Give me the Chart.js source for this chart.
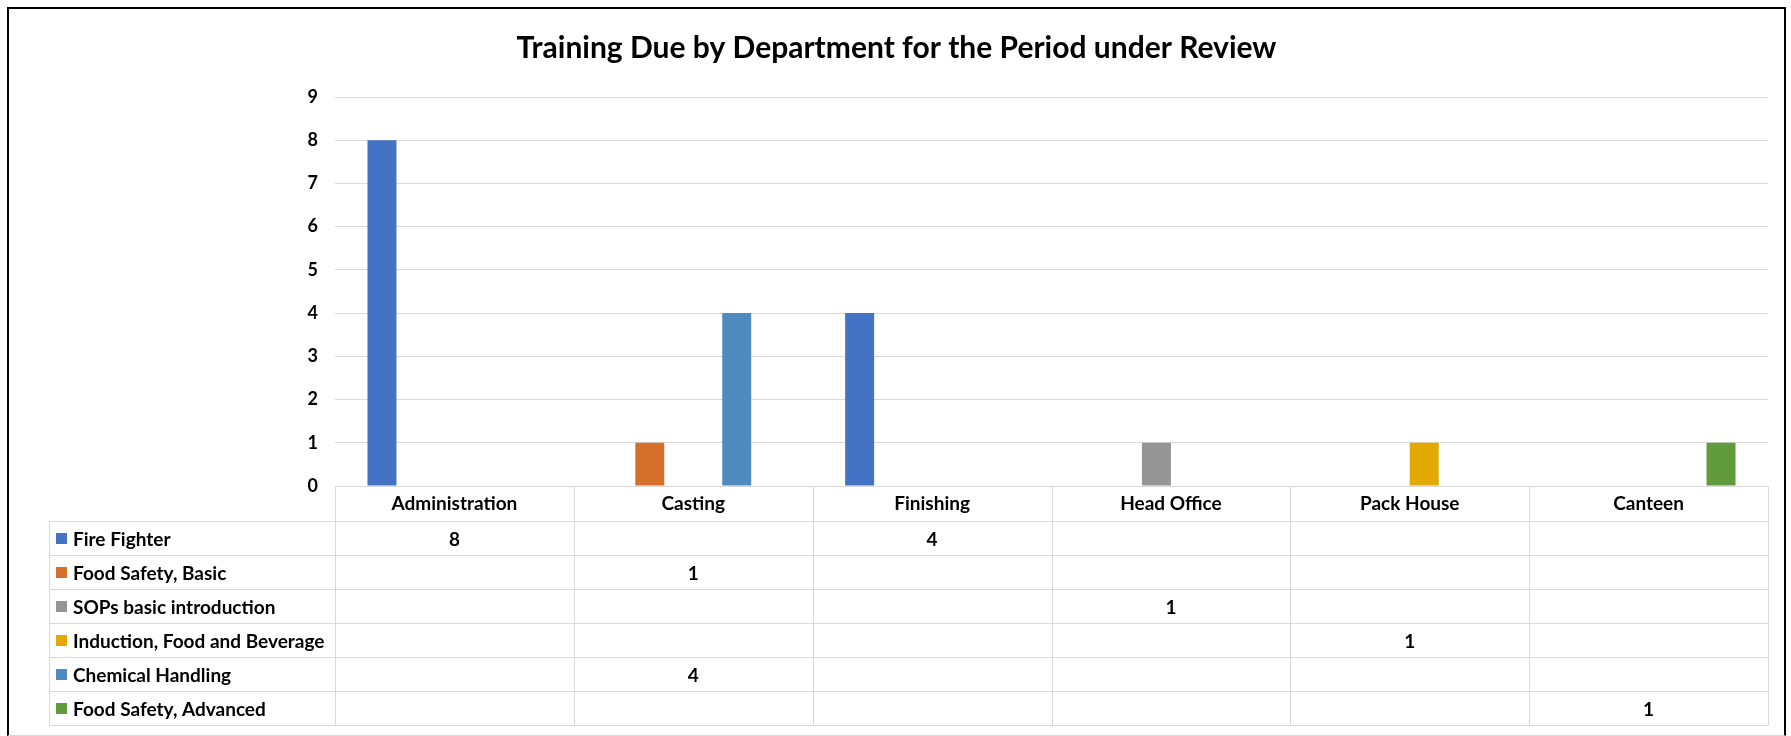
<!DOCTYPE html>
<html>
<head>
<meta charset="utf-8">
<script src="https://cdn.jsdelivr.net/npm/chart.js@4.4.1/dist/chart.umd.min.js"></script>
<style>
    body { margin: 0; background: #ffffff; }
    #frame {
        position: absolute;
        left: 7px;
        top: 7px;
        width: 1775px;
        height: 726px;
        border-left: 2px solid #000000;
        border-top: 2px solid #000000;
        border-right: 2px solid #000000;
        border-bottom: 1px solid #d9d9d9;
    }
    #chartHolder { display: block; }
</style>
</head>
<body>
<div id="frame"><canvas id="chartHolder" width="1775" height="726"></canvas></div>
<script>
const departments = ["Administration", "Casting", "Finishing", "Head Office", "Pack House", "Canteen"];
const trainingNames = ["Fire Fighter", "Food Safety, Basic", "SOPs basic introduction", "Induction, Food and Beverage", "Chemical Handling", "Food Safety, Advanced"];
const fireFighter = [8, null, 4, null, null, null];
const foodSafetyBasic = [null, 1, null, null, null, null];
const sopsIntro = [null, null, null, 1, null, null];
const inductionFoodBev = [null, null, null, null, 1, null];
const chemicalHandling = [null, 4, null, null, null, null];
const foodSafetyAdvanced = [null, null, null, null, null, 1];
const yTicks = [0, 1, 2, 3, 4, 5, 6, 7, 8, 9];
const colours = ["#4472c4", "#d4702b", "#959595", "#e2aa00", "#4f8bbe", "#629a3e"];

const chartHolder = document.getElementById("chartHolder");
const fontFamily = "Lato, 'Open Sans', sans-serif";
const gridColour = "#d9d9d9";
const rowHeight = 34;
const tableLeft = 40;

// data table under the plot, columns follow the x scale
const dataTable = {
    id: "dataTable",
    afterDraw(chart) {
        const ctx = chart.ctx;
        const x = chart.scales.x;
        const area = chart.chartArea;
        const colWidth = (area.right - area.left) / departments.length;
        const headTop = Math.round(area.bottom) + 0.5;
        const headBottom = Math.round(x.bottom) + 0.5;
        const tableBottom = headBottom + rowHeight * trainingNames.length;

        ctx.save();
        ctx.strokeStyle = gridColour;
        ctx.lineWidth = 1;
        ctx.beginPath();
        ctx.moveTo(area.left, headTop);
        ctx.lineTo(area.right, headTop);
        for (let r = 0; r <= trainingNames.length; r++) {
            const y = headBottom + r * rowHeight;
            ctx.moveTo(tableLeft, y);
            ctx.lineTo(area.right, y);
        }
        ctx.moveTo(tableLeft + 0.5, headBottom);
        ctx.lineTo(tableLeft + 0.5, tableBottom);
        for (let c = 0; c <= departments.length; c++) {
            const cx = Math.round(x.getPixelForValue(c) - colWidth / 2) + 0.5;
            ctx.moveTo(cx, headTop);
            ctx.lineTo(cx, tableBottom);
        }
        ctx.stroke();

        ctx.font = "bold 19px " + fontFamily;
        ctx.textBaseline = "middle";
        chart.data.datasets.forEach((ds, r) => {
            const yMid = headBottom + r * rowHeight + rowHeight / 2;
            ctx.fillStyle = ds.backgroundColor;
            ctx.fillRect(tableLeft + 7, yMid - 5.5, 11, 11);
            ctx.fillStyle = "#000000";
            ctx.textAlign = "left";
            ctx.fillText(ds.label, tableLeft + 24, yMid + 1);
            ctx.textAlign = "center";
            ds.data.forEach((v, c) => {
                if (v !== null) {
                    ctx.fillText(String(v), x.getPixelForValue(c), yMid + 1);
                }
            });
        });
        ctx.restore();
    }
};

const seriesValues = [fireFighter, foodSafetyBasic, sopsIntro, inductionFoodBev, chemicalHandling, foodSafetyAdvanced];

new Chart(chartHolder, {
    type: "bar",
    data: {
        labels: departments,
        datasets: seriesValues.map((values, i) => ({
            label: trainingNames[i],
            data: values,
            backgroundColor: colours[i],
            borderWidth: 0,
            barPercentage: 1.0,
            categoryPercentage: 0.728
        }))
    },
    options: {
        responsive: false,
        animation: false,
        layout: {
            padding: { left: 16, right: 16, top: 0, bottom: 214 }
        },
        plugins: {
            legend: { display: false },
            tooltip: { enabled: false },
            title: {
                display: true,
                text: "Training Due by Department for the Period under Review",
                color: "#000000",
                font: { family: fontFamily, size: 30, weight: "bold" },
                padding: { top: 21, bottom: 31 }
            }
        },
        scales: {
            x: {
                grid: { display: false, drawTicks: false },
                border: { display: false },
                ticks: {
                    color: "#000000",
                    font: { family: fontFamily, size: 19, weight: "bold" },
                    padding: 6,
                    maxRotation: 0
                },
                afterFit(scale) { scale.height = 35; }
            },
            y: {
                min: 0,
                max: 9,
                afterBuildTicks(scale) { scale.ticks = yTicks.map(v => ({ value: v })); },
                grid: { color: gridColour, drawTicks: false },
                border: { display: false },
                ticks: {
                    color: "#000000",
                    font: { family: fontFamily, size: 18, weight: "bold" },
                    padding: 17
                },
                afterFit(scale) { scale.width = 310; }
            }
        }
    },
    plugins: [dataTable]
});
</script>
</body>
</html>
